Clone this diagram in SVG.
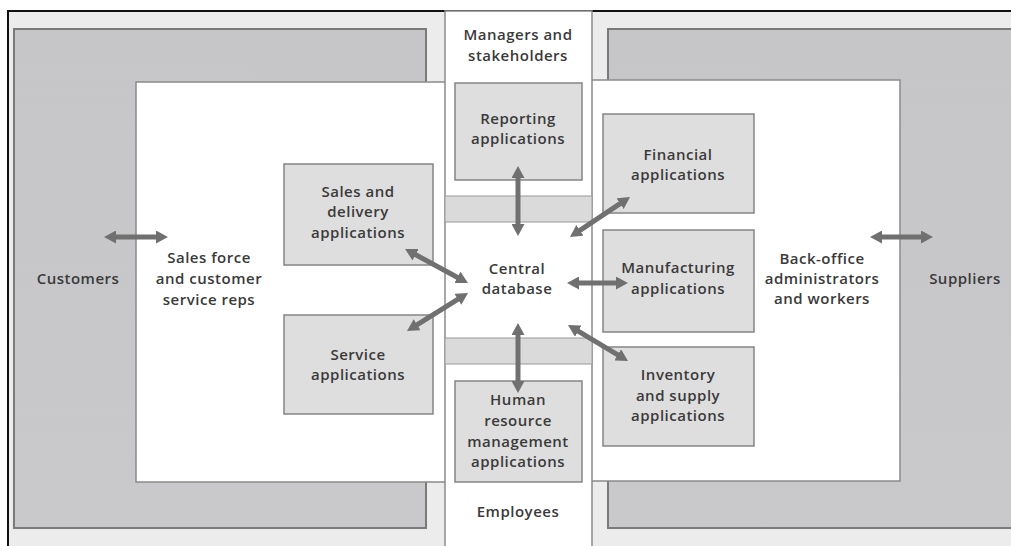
<svg xmlns="http://www.w3.org/2000/svg" width="1011" height="546" viewBox="0 0 1011 546">
<defs>
<linearGradient id="gp" x1="0" y1="0" x2="0" y2="1">
<stop offset="0" stop-color="#c6c6c9"/>
<stop offset="1" stop-color="#c9c9cc"/>
</linearGradient>
<marker id="ah" viewBox="0 0 12 13" refX="5" refY="6.5" markerWidth="12" markerHeight="13" markerUnits="userSpaceOnUse" orient="auto-start-reverse">
<path d="M0,0 L12,6.5 L0,13 z" fill="#707070"/>
</marker>
</defs>
<style>
text{font-family:"Open Sans","Liberation Sans",sans-serif;font-size:15px;letter-spacing:0.5px;font-weight:600;fill:#3a3a3a;text-anchor:middle}
.panel{fill:url(#gp);stroke:#7a7a7a;stroke-width:2}
.white{fill:#ffffff;stroke:#8a8a8a;stroke-width:1.5}
.box{fill:#dedede;stroke:#858585;stroke-width:1.5}
.band{fill:#dadada;stroke:#9a9a9a;stroke-width:1}
.conn line{stroke:#707070;stroke-width:5;marker-start:url(#ah);marker-end:url(#ah)}
</style>
<rect x="0" y="0" width="1011" height="546" fill="#ffffff"/>
<rect x="8" y="11" width="1010" height="540" fill="#ececec" stroke="#111" stroke-width="2"/>
<g id="customers">
<rect class="panel" x="14" y="29" width="412" height="499"/>
<text x="78" y="284">Customers</text>
</g>
<g id="suppliers">
<rect class="panel" x="608" y="29" width="410" height="499"/>
<text x="965" y="284">Suppliers</text>
</g>
<g id="sales-force">
<rect class="white" x="136" y="82" width="320" height="400"/>
<text x="209" y="263">Sales force</text>
<text x="209" y="284">and customer</text>
<text x="209" y="305">service reps</text>
</g>
<g id="back-office">
<rect class="white" x="580" y="80" width="320" height="401"/>
<text x="822" y="264">Back-office</text>
<text x="822" y="284">administrators</text>
<text x="822" y="304">and workers</text>
</g>
<g id="center-column">
<rect x="445" y="11" width="147" height="536" fill="#ffffff" stroke="#8a8a8a" stroke-width="1.5"/>
<rect class="band" x="445" y="196" width="147" height="26"/>
<rect class="band" x="445" y="338" width="147" height="26"/>
<text x="518" y="40">Managers and</text>
<text x="518" y="61">stakeholders</text>
<text x="518" y="517">Employees</text>
</g>
<g id="central-database">
<text x="517" y="274">Central</text>
<text x="517" y="294">database</text>
</g>
<g id="reporting">
<rect class="box" x="455" y="83" width="127" height="97"/>
<text x="518" y="124">Reporting</text>
<text x="518" y="144">applications</text>
</g>
<g id="human-resource">
<rect class="box" x="455" y="381" width="127" height="101"/>
<text x="518" y="405">Human</text>
<text x="518" y="426">resource</text>
<text x="518" y="447">management</text>
<text x="518" y="467">applications</text>
</g>
<g id="sales-delivery">
<rect class="box" x="284" y="164" width="149" height="101"/>
<text x="358" y="197">Sales and</text>
<text x="358" y="217">delivery</text>
<text x="358" y="238">applications</text>
</g>
<g id="service">
<rect class="box" x="284" y="315" width="149" height="99"/>
<text x="358" y="360">Service</text>
<text x="358" y="380">applications</text>
</g>
<g id="financial">
<rect class="box" x="603" y="114" width="151" height="99"/>
<text x="678" y="160">Financial</text>
<text x="678" y="180">applications</text>
</g>
<g id="manufacturing">
<rect class="box" x="603" y="230" width="151" height="102"/>
<text x="678" y="273">Manufacturing</text>
<text x="678" y="294">applications</text>
</g>
<g id="inventory">
<rect class="box" x="603" y="347" width="151" height="99"/>
<text x="678" y="380">Inventory</text>
<text x="678" y="401">and supply</text>
<text x="678" y="421">applications</text>
</g>
<g id="connectors" class="conn">
<line x1="111" y1="237" x2="161" y2="237"/>
<line x1="877" y1="237" x2="926" y2="237"/>
<line x1="518" y1="173" x2="518" y2="229"/>
<line x1="518" y1="330" x2="518" y2="386"/>
<line x1="574" y1="283" x2="621" y2="283"/>
<line x1="411.2" y1="252.3" x2="461.8" y2="279.7"/>
<line x1="462.1" y1="296.7" x2="412.9" y2="327.3"/>
<line x1="575.8" y1="233.1" x2="624.2" y2="200.9"/>
<line x1="574" y1="328.6" x2="622" y2="357.4"/>
</g>
</svg>
